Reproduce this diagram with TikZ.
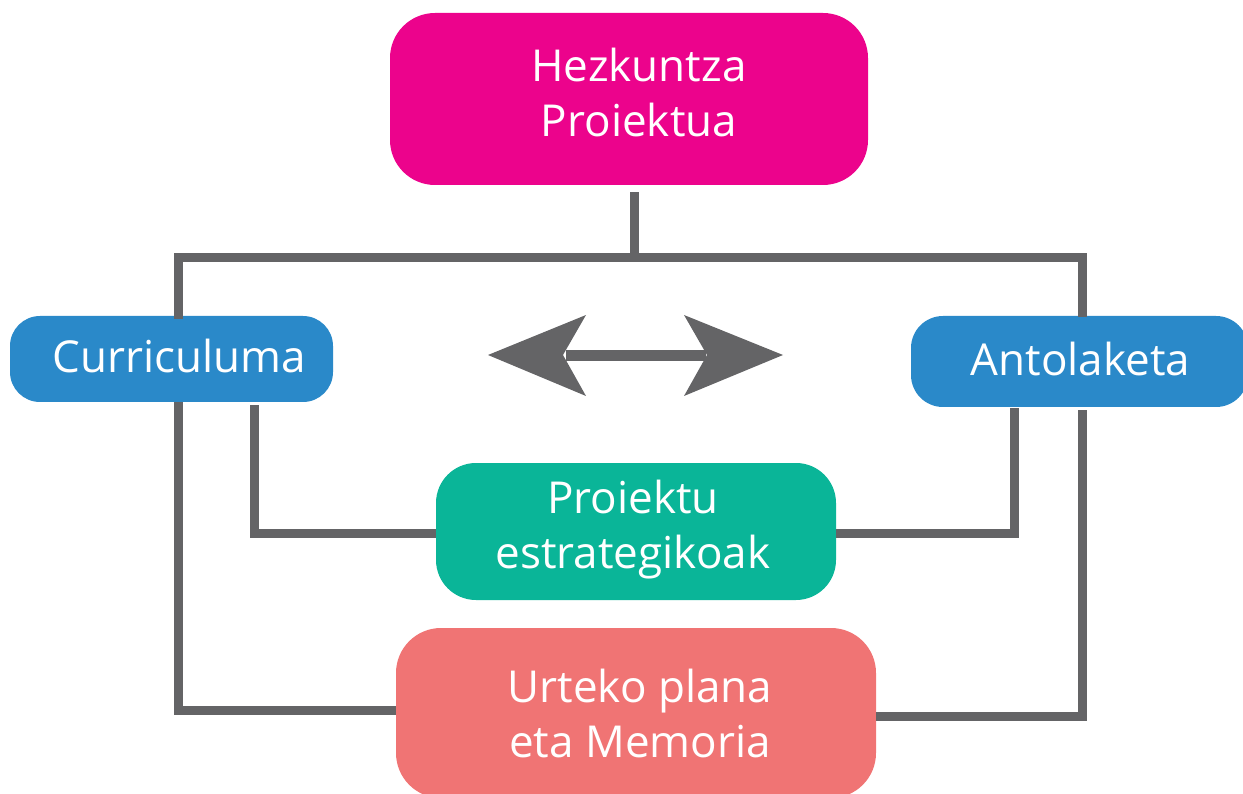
\documentclass[tikz,border=0pt]{standalone}
\usepackage{fontspec}
\setmainfont{Open Sans}
\definecolor{cmag}{HTML}{EC038C}
\definecolor{cblue}{HTML}{2A89C9}
\definecolor{cteal}{HTML}{0AB598}
\definecolor{csalm}{HTML}{F07474}
\definecolor{cgray}{HTML}{646466}
\begin{document}
\begin{tikzpicture}[x=1pt,y=-1pt,
  box/.style={rectangle,rounded corners=#1,inner sep=0pt},
  txt/.style={text=white,align=center,inner sep=0pt,font=\fontsize{44}{55}\selectfont},
  conn/.style={draw=cgray,line width=9pt,line join=miter}]
\useasboundingbox (0,0) rectangle (1243,794);
% nodes
\node[box=45pt,fill=cmag,minimum width=478pt,minimum height=172pt,
  label={[txt,xshift=10pt,yshift=6pt]center:Hezkuntza\\Proiektua}] (hez) at (629,99) {};
\node[box=30pt,fill=cblue,minimum width=323pt,minimum height=86pt,
  label={[txt,xshift=8pt,yshift=3pt]center:Curriculuma}] (cur) at (171.5,359) {};
\node[box=32pt,fill=cblue,minimum width=337pt,minimum height=91pt,
  label={[txt,xshift=1pt,yshift=2pt]center:Antolaketa}] (ant) at (1079.5,361.5) {};
\node[box=40pt,fill=cteal,minimum width=400pt,minimum height=137pt,
  label={[txt,xshift=-3pt,yshift=2pt]center:Proiektu\\estrategikoak}] (pro) at (636,531.5) {};
\node[box=45pt,fill=csalm,minimum width=480pt,minimum height=170pt,
  label={[txt,xshift=4pt]center:Urteko plana\\eta Memoria}] (urt) at (636,713) {};
% coordinates
\coordinate (busM) at (634,258);
\coordinate (busL) at (178,258);
\coordinate (busR) at (1082,258);
\coordinate (LL) at (178,710);
\coordinate (RL) at (1082,716);
\coordinate (IL) at (254,533);
\coordinate (IR) at (1014,533);
% connectors
\draw[conn] ([yshift=-7pt]hez.south -| busM) -- (busM);
\draw[conn] ([yshift=-3pt]cur.north -| busL) |- (busR) -- ([yshift=-1pt]ant.north -| busR);
\draw[conn] (cur.south -| LL) |- (urt.west |- LL);
\draw[conn] ([yshift=-3pt]cur.south -| IL) |- (pro.west |- IL);
\draw[conn] ([yshift=-1pt]ant.south -| IR) |- (pro.east |- IR);
\draw[conn] ([yshift=-3pt]ant.south -| RL) |- (urt.east |- RL);
% double arrow
\coordinate (aL) at (488,355);
\coordinate (aR) at (783,355);
\fill[cgray] (566,350) rectangle (706,361);
\fill[cgray] (aL) -- (586,315) -- (563,355) -- (586,396) -- cycle;
\fill[cgray] (aR) -- (684,315) -- (707,355) -- (684,396) -- cycle;
\end{tikzpicture}
\end{document}
